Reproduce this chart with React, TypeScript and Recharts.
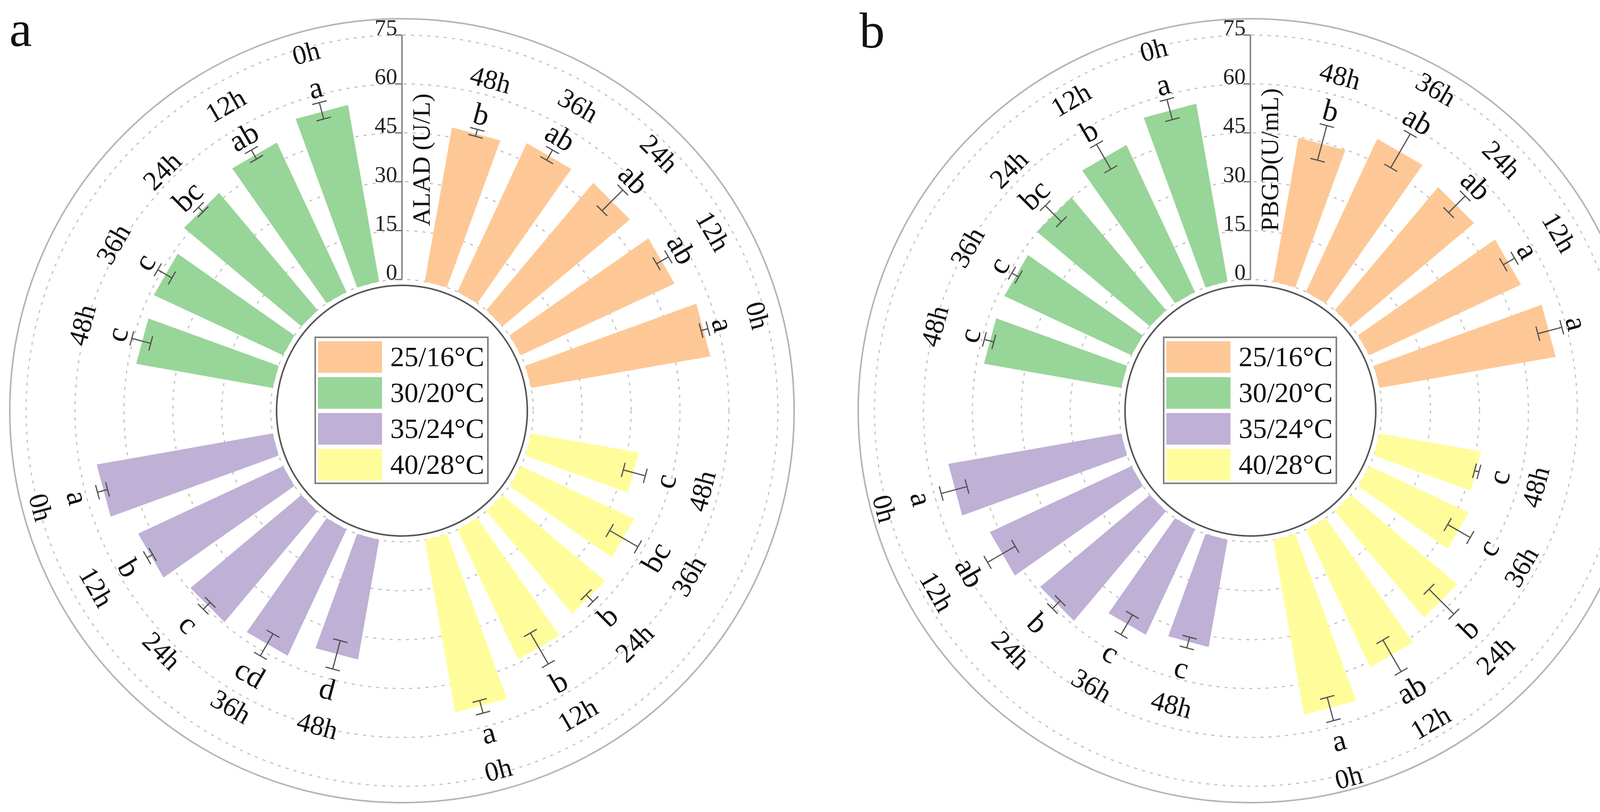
import React from "react";
import {
  Legend,
  PolarAngleAxis,
  PolarGrid,
  PolarRadiusAxis,
  RadialBar,
  RadialBarChart,
} from "recharts";

const FONT = "'Times New Roman', 'Liberation Serif', serif";

const HOURS = ["0h", "12h", "24h", "36h", "48h"];
const GROUPS = ["25/16°C", "30/20°C", "35/24°C", "40/28°C"];
const COLORS = ["#FEC896", "#98D598", "#BFB0D6", "#FFFD9B"];

// panel a: ALAD (U/L), values per group in HOURS order
const ALAD_MEAN = [
  [55.8, 52.0, 51.0, 50.3, 48.0],
  [55.0, 50.5, 47.0, 43.7, 42.5],
  [54.8, 49.0, 44.4, 42.7, 37.3],
  [53.8, 44.0, 41.1, 38.3, 33.5],
];
const ALAD_SD = [
  [1.1, 2.1, 4.5, 1.8, 1.1],
  [2.6, 1.6, 1.0, 2.5, 3.0],
  [1.6, 1.0, 1.5, 3.9, 4.5],
  [2.0, 5.5, 1.5, 5.0, 3.5],
];
const ALAD_SIG = [
  ["a", "ab", "ab", "ab", "b"],
  ["a", "ab", "bc", "c", "c"],
  ["a", "b", "c", "cd", "d"],
  ["a", "b", "b", "bc", "c"],
];

// panel b: PBGD (U/mL)
const PBGD_MEAN = [
  [54.8, 51.3, 49.3, 51.8, 44.8],
  [55.4, 49.7, 45.2, 43.0, 42.7],
  [53.8, 47.9, 43.9, 35.6, 33.4],
  [54.5, 46.6, 42.6, 33.6, 31.6],
];
const PBGD_SD = [
  [3.8, 2.0, 3.6, 6.0, 5.5],
  [3.2, 4.4, 3.5, 1.2, 1.5],
  [4.1, 4.9, 1.7, 3.5, 1.7],
  [3.7, 5.6, 5.4, 4.0, 0.7],
];
const PBGD_SIG = [
  ["a", "a", "ab", "ab", "b"],
  ["a", "b", "bc", "c", "c"],
  ["a", "ab", "b", "c", "c"],
  ["a", "ab", "b", "c", "c"],
];

const MAJOR_TICKS = [0, 15, 30, 45, 60, 75];
const MINOR_TICKS = [7.5, 22.5, 37.5, 52.5, 67.5];

// clockwise from 12 o'clock: 25/16, 40/28, 35/24, 30/20, each 48h -> 0h
const RING_ORDER = [0, 3, 2, 1];

const H = 2080;
const CY = 1052;
const R0 = 336;
const R75 = 965;
const R_OUT = 1004;
const R_HOLE = 321;
const RMAX = (75 * (R_OUT - R0)) / (R75 - R0);
const RAD = Math.PI / 180;

function buildRows(mean: number[][], sd: number[][], sig: string[][]) {
  const rows: any[] = [];
  RING_ORDER.forEach((g) => {
    rows.push({ key: `gap-${g}`, gap: true, value: 0 });
    for (let i = HOURS.length - 1; i >= 0; i--) {
      rows.push({
        key: `${g}-${HOURS[i]}`,
        group: g,
        hour: HOURS[i],
        value: mean[g][i],
        sd: sd[g][i],
        sig: sig[g][i],
      });
    }
  });
  return rows;
}

const pt = (cx: number, cy: number, r: number, a: number) => [
  cx + r * Math.cos(-a * RAD),
  cy + r * Math.sin(-a * RAD),
];

function RotText({ x, y, rot, size, children }: any) {
  return (
    <text
      x={x}
      y={y}
      textAnchor="middle"
      dominantBaseline="central"
      transform={`rotate(${rot} ${x} ${y})`}
      fontSize={size}
      fontFamily={FONT}
      fill="#111"
    >
      {children}
    </text>
  );
}

function PolarBar(props: any) {
  const { cx, cy, innerRadius, outerRadius, startAngle, endAngle, payload } = props;
  if (!payload || payload.gap) return null;
  const mid = (startAngle + endAngle) / 2;
  const corners = [
    pt(cx, cy, innerRadius, startAngle),
    pt(cx, cy, outerRadius, startAngle),
    pt(cx, cy, outerRadius, endAngle),
    pt(cx, cy, innerRadius, endAngle),
  ];
  const ppu = (outerRadius - innerRadius) / payload.value;
  const rLo = outerRadius - payload.sd * ppu;
  const rHi = outerRadius + payload.sd * ppu;
  const ux = Math.cos(-mid * RAD);
  const uy = Math.sin(-mid * RAD);
  const tx = -uy;
  const ty = ux;
  const cap = 19;
  const [lx, ly] = pt(cx, cy, rLo, mid);
  const [hx, hy] = pt(cx, cy, rHi, mid);

  const theta = (((90 - mid) % 360) + 360) % 360;
  const flip = theta > 90 && theta < 270;
  const rot = flip ? theta - 180 : theta > 270 ? theta - 360 : theta;
  const [sx, sy] = pt(cx, cy, rHi + (flip ? 52 : 40), mid);
  const [hrx, hry] = pt(cx, cy, rHi + (flip ? 150 : 132), mid);

  return (
    <g>
      <polygon
        points={corners.map((c) => c.join(",")).join(" ")}
        fill={COLORS[payload.group]}
      />
      <g stroke="#505050" strokeWidth={3}>
        <line x1={lx} y1={ly} x2={hx} y2={hy} />
        <line x1={lx - tx * cap} y1={ly - ty * cap} x2={lx + tx * cap} y2={ly + ty * cap} />
        <line x1={hx - tx * cap} y1={hy - ty * cap} x2={hx + tx * cap} y2={hy + ty * cap} />
      </g>
      <RotText x={sx} y={sy} rot={rot} size={78}>
        {payload.sig}
      </RotText>
      <RotText x={hrx} y={hry} rot={rot} size={70}>
        {payload.hour}
      </RotText>
    </g>
  );
}

const MajorTick = (props: any) => {
  const { x, y, payload } = props;
  return (
    <g>
      <line x1={x - 18} y1={y} x2={x} y2={y} stroke="#6e6e6e" strokeWidth={3} />
      <text x={x - 12} y={y} textAnchor="end" fontSize={58} fontFamily={FONT} fill="#222">
        {payload.value}
      </text>
    </g>
  );
};

const MinorTick = (props: any) => {
  const { x, y, payload } = props;
  if (payload.value > 75) return <g />;
  return <line x1={x - 18} y1={y} x2={x} y2={y} stroke="#6e6e6e" strokeWidth={3} />;
};

function AxisTitle(props: any) {
  const vb = props.viewBox || {};
  const cx = typeof vb.cx === "number" ? vb.cx : props.fcx;
  const cy = typeof vb.cy === "number" ? vb.cy : CY;
  const ir = typeof vb.innerRadius === "number" ? vb.innerRadius : R0;
  const or = typeof vb.outerRadius === "number" ? vb.outerRadius : R_OUT;
  const x = cx + 50;
  const y = cy - (ir + 0.49 * (or - ir));
  return (
    <text
      x={x}
      y={y}
      textAnchor="middle"
      dominantBaseline="central"
      transform={`rotate(-90 ${x} ${y})`}
      fontSize={64}
      fontFamily={FONT}
      fill="#111"
    >
      {props.text}
    </text>
  );
}

function LegendBox() {
  return (
    <div
      style={{
        boxSizing: "border-box",
        width: 446,
        height: 378,
        border: "4px solid #7f7f7f",
        background: "#fff",
        padding: "2px 0 0 5px",
      }}
    >
      {GROUPS.map((g, i) => (
        <div key={g} style={{ display: "flex", alignItems: "center", height: 92 }}>
          <div style={{ width: 164, height: 81, background: COLORS[i] }} />
          <span
            style={{ marginLeft: 21, fontSize: 72, fontFamily: FONT, lineHeight: 1, color: "#111" }}
          >
            {g}
          </span>
        </div>
      ))}
    </div>
  );
}

function PolarPanel({ width, cx, rows, title }: any) {
  return (
    <RadialBarChart
      width={width}
      height={H}
      data={rows}
      cx={cx}
      cy={CY}
      innerRadius={R0}
      outerRadius={R_OUT}
      startAngle={82.5}
      endAngle={-277.5}
      layout="centric"
      barCategoryGap="16.667%"
      margin={{ top: 0, right: 0, bottom: 0, left: 0 }}
    >
      <PolarGrid gridType="circle" radialLines={false} polarRadius={[R_OUT]} stroke="#b4b4b4" strokeWidth={4} />
      <PolarGrid gridType="circle" radialLines={false} polarRadius={[R_HOLE]} stroke="#555" strokeWidth={4} />
      <PolarGrid
        gridType="circle"
        radialLines={false}
        stroke="#c2c2c2"
        strokeWidth={3}
        strokeDasharray="8 13"
      />
      <PolarAngleAxis type="category" dataKey="key" tick={false} axisLine={false} tickLine={false} />
      <PolarRadiusAxis
        type="number"
        angle={90}
        domain={[0, RMAX]}
        ticks={MAJOR_TICKS}
        tick={<MajorTick />}
        tickLine={false}
        axisLine={{ stroke: "#8a8a8a", strokeWidth: 4 }}
        label={<AxisTitle text={title} fcx={cx} />}
      />
      <PolarRadiusAxis
        radiusAxisId="minor"
        type="number"
        angle={90}
        domain={[0, RMAX]}
        ticks={[...MINOR_TICKS, RMAX]}
        tick={<MinorTick />}
        tickLine={false}
        axisLine={{ stroke: "#8a8a8a", strokeWidth: 4 }}
      />
      <RadialBar dataKey="value" shape={<PolarBar />} isAnimationActive={false} />
      <Legend
        layout="vertical"
        align="center"
        verticalAlign="middle"
        content={<LegendBox />}
        wrapperStyle={{ left: cx - 224, top: CY - 190, width: 446, height: 378, right: "auto", bottom: "auto" }}
      />
    </RadialBarChart>
  );
}

export default function App() {
  const rowsA = buildRows(ALAD_MEAN, ALAD_SD, ALAD_SIG);
  const rowsB = buildRows(PBGD_MEAN, PBGD_SD, PBGD_SIG);
  return (
    <div style={{ position: "absolute", left: 0, top: 0, width: 4233, height: H, background: "#fff" }}>
      <div style={{ position: "absolute", left: 0, top: 0 }}>
        <PolarPanel width={2116} cx={1029} rows={rowsA} title="ALAD (U/L)" />
      </div>
      <div style={{ position: "absolute", left: 2116, top: 0 }}>
        <PolarPanel width={2117} cx={1085} rows={rowsB} title="PBGD(U/mL)" />
      </div>
      <svg
        width={4233}
        height={H}
        style={{ position: "absolute", left: 0, top: 0, pointerEvents: "none" }}
      >
        <text x={24} y={118} fontSize={130} fontFamily={FONT} fill="#111">
          a
        </text>
        <text x={2200} y={122} fontSize={130} fontFamily={FONT} fill="#111">
          b
        </text>
      </svg>
    </div>
  );
}
